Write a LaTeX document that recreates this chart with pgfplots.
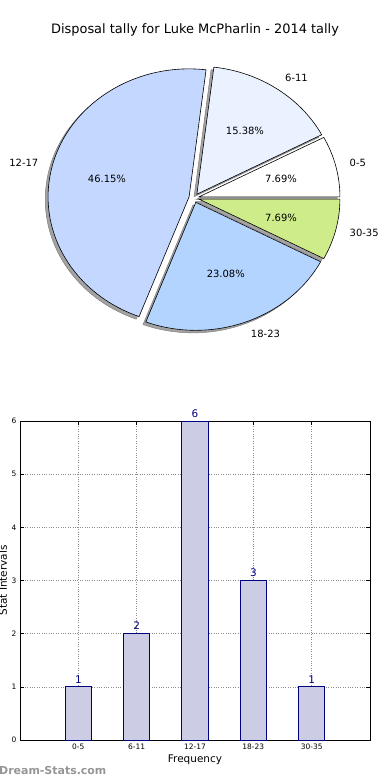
\documentclass[border=0pt]{standalone}
\usepackage{fontspec}
\setmainfont{DejaVu Sans}
\usepackage{pgfplots}
\pgfplotsset{compat=1.18}
\definecolor{cA}{RGB}{255,255,255}
\definecolor{cB}{RGB}{234,242,255}
\definecolor{cC}{RGB}{196,216,255}
\definecolor{cD}{RGB}{179,212,255}
\definecolor{cE}{RGB}{207,236,138}
\definecolor{barfill}{RGB}{204,204,228}
\definecolor{baredge}{RGB}{0,0,128}
\definecolor{wm}{RGB}{150,150,150}

% data: disposal tally per interval
\def\vA{1}\def\vB{2}\def\vC{6}\def\vD{3}\def\vE{1}
\pgfmathsetmacro\tot{\vA+\vB+\vC+\vD+\vE}
\pgfmathsetmacro\aA{0}
\pgfmathsetmacro\aB{\aA+360*\vA/\tot}
\pgfmathsetmacro\aC{\aB+360*\vB/\tot}
\pgfmathsetmacro\aD{\aC+360*\vC/\tot}
\pgfmathsetmacro\aE{\aD+360*\vD/\tot}
\pgfmathsetmacro\aF{\aE+360*\vE/\tot}

\newcommand\pieshadow[2]{%
  \pgfmathsetmacro\m{(#1+#2)/2}%
  \pgfmathsetmacro\dx{0.036*cos(\m)-0.02}%
  \pgfmathsetmacro\dy{0.036*sin(\m)-0.02}%
  \pgfmathsetmacro\sx{\dx+cos(#1)}%
  \pgfmathsetmacro\sy{\dy+sin(#1)}%
  \filldraw[fill=black!36,draw=black!50,line width=0.5bp] (axis cs:\dx,\dy) -- (axis cs:\sx,\sy)
    arc[start angle=#1,end angle=#2,x radius=141bp,y radius=128bp] -- cycle;
}
\newcommand\pieslice[5]{%
  \pgfmathsetmacro\m{(#1+#2)/2}%
  \pgfmathsetmacro\dx{0.036*cos(\m)}%
  \pgfmathsetmacro\dy{0.036*sin(\m)}%
  \pgfmathsetmacro\sx{\dx+cos(#1)}%
  \pgfmathsetmacro\sy{\dy+sin(#1)}%
  \filldraw[fill=#3,draw=black,line width=0.6bp] (axis cs:\dx,\dy) -- (axis cs:\sx,\sy)
    arc[start angle=#1,end angle=#2,x radius=141bp,y radius=128bp] -- cycle;
  \pgfmathsetmacro\px{\dx+0.6*cos(\m)}%
  \pgfmathsetmacro\py{\dy+0.6*sin(\m)}%
  \pgfmathsetmacro\pct{100*#5/\tot}%
  \node[inner sep=0pt,font=\fontsize{10}{12}\selectfont] at (axis cs:\px,\py)
    {\pgfmathprintnumber[fixed,fixed zerofill,precision=2,assume math mode=true]{\pct}\%};
  \pgfmathsetmacro\lx{\dx+1.1*cos(\m)}%
  \pgfmathsetmacro\ly{\dy+1.1*sin(\m)}%
  \ifdim\lx pt>0pt \def\anc{west}\else\def\anc{east}\fi
  \node[inner sep=0pt,anchor=\anc,font=\fontsize{10}{12}\selectfont] at (axis cs:\lx,\ly) {#4};
}

\begin{document}
\begin{tikzpicture}
\useasboundingbox (0,0) rectangle (390bp,780bp);
\node[font=\fontsize{13}{15}\selectfont] at (195bp,750bp) {Disposal tally for Luke McPharlin - 2014 tally};

\begin{axis}[at={(194bp,582bp)}, anchor=origin, x=141bp, y=128bp,
  xmin=-1, xmax=1, ymin=-1, ymax=1, hide axis, clip=false]
\pgfplotsextra{%
  \pieshadow{\aA}{\aB}\pieshadow{\aB}{\aC}\pieshadow{\aC}{\aD}\pieshadow{\aD}{\aE}\pieshadow{\aE}{\aF}%
  \pieslice{\aA}{\aB}{cA}{0-5}{\vA}%
  \pieslice{\aB}{\aC}{cB}{6-11}{\vB}%
  \pieslice{\aC}{\aD}{cC}{12-17}{\vC}%
  \pieslice{\aD}{\aE}{cD}{18-23}{\vD}%
  \pieslice{\aE}{\aF}{cE}{30-35}{\vE}%
}
\end{axis}

\begin{axis}[at={(20bp,40bp)}, anchor=south west, scale only axis,
  width=350bp, height=319bp,
  xmin=-1, xmax=5, ymin=0, ymax=6,
  ybar, bar width=0.45,
  xtick={0,1,2,3,4}, xticklabels={0-5,6-11,12-17,18-23,30-35},
  ytick={0,1,2,3,4,5,6},
  tick align=inside, major tick length=4bp,
  tick style={black, line width=0.6bp},
  grid=major, major grid style={dotted, black!45, line width=0.6bp},
  axis line style={line width=0.8bp},
  tick label style={font=\fontsize{7.5}{9}\selectfont},
  /pgf/number format/assume math mode=true,
  nodes near coords,
  nodes near coords style={font=\fontsize{10.5}{12}\selectfont, text=baredge},
  xlabel={Frequency}, ylabel={Stat Intervals},
  label style={font=\fontsize{10.5}{12}\selectfont},
  xlabel style={at={(axis description cs:0.5,0)}, anchor=center, yshift=-20bp},
  ylabel style={at={(axis description cs:0,0.5)}, anchor=center, yshift=17bp},
]
\addplot[fill=barfill, draw=baredge, line width=0.8bp] coordinates {(0,1) (1,2) (2,6) (3,3) (4,1)};
\end{axis}

\node[anchor=west, inner sep=0pt, text=wm, font=\bfseries\fontsize{11}{13}\selectfont] at (-1bp,9bp) {Dream-Stats.com};
\end{tikzpicture}
\end{document}
